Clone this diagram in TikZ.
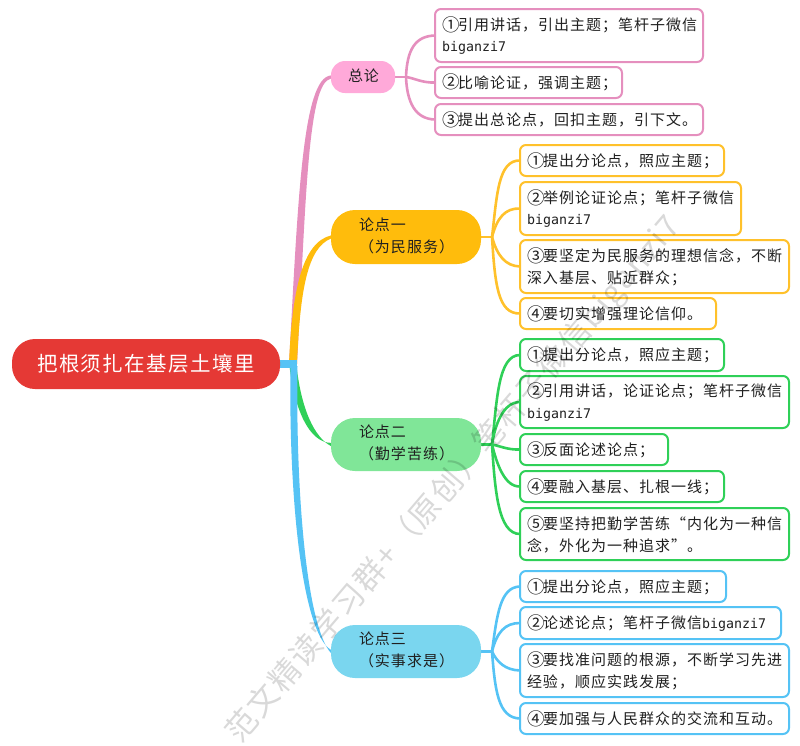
\documentclass[tikz,border=0pt]{standalone}
\usepackage{fontspec}
\setmainfont[LetterSpace=6.7]{Noto Sans CJK SC}
\newfontfamily\lat{DejaVu Sans Mono}
\newfontfamily\wm[LetterSpace=6]{Noto Sans CJK SC}
\usetikzlibrary{calc,backgrounds}
\definecolor{cpinkL}{HTML}{E58FBE}\definecolor{cpinkF}{HTML}{FFA9D9}
\definecolor{cyelL}{HTML}{FFC12B}\definecolor{cyelF}{HTML}{FFBC0C}
\definecolor{cgrnL}{HTML}{2FD058}\definecolor{cgrnF}{HTML}{80E698}
\definecolor{cbluL}{HTML}{55C3F5}\definecolor{cbluF}{HTML}{7AD6EF}
\definecolor{crootF}{HTML}{E53935}\definecolor{ctext}{HTML}{202020}
\newcommand{\bg}{{\lat\fontsize{13.3}{21.5}\selectfont biganzi7}}
\newcommand{\nn}[1]{\makebox[16pt][l]{\fontsize{17.5}{21.5}\selectfont\raisebox{-0.6pt}{#1}}}
\tikzset{
  leafbox/.style={rounded corners=6pt,line width=2pt,fill=white,inner xsep=7pt,inner ysep=0pt,outer sep=0pt,
    align=left,text=ctext,font=\fontsize{15}{21.5}\selectfont},
  pill/.style={inner sep=0pt,outer sep=0pt,text=ctext,font=\fontsize{15}{21.5}\selectfont},
  conn/.style={line width=2.6pt,line cap=round},
}
% \leafnode{name}{colour}{x1}{y1}{x2}{y2}{text}
\newcommand{\leafnode}[7]{%
  \pgfmathsetmacro{\lw}{#5-#3}\pgfmathsetmacro{\lh}{#6-#4}%
  \pgfmathsetmacro{\lx}{(#3+#5)/2}\pgfmathsetmacro{\ly}{(#4+#6)/2}%
  \pgfmathsetmacro{\tw}{\lw-14}%
  \node[leafbox,draw=#2,minimum width=\lw pt,minimum height=\lh pt,text width=\tw pt] (#1) at (\lx,\ly) {#7};}
% \pillnode{name}{fill}{x1}{y1}{x2}{y2}{radius}
\newcommand{\pillnode}[7]{%
  \pgfmathsetmacro{\lw}{#5-#3}\pgfmathsetmacro{\lh}{#6-#4}%
  \pgfmathsetmacro{\lx}{(#3+#5)/2}\pgfmathsetmacro{\ly}{(#4+#6)/2}%
  \node[pill,fill=#2,rounded corners=#7pt,minimum width=\lw pt,minimum height=\lh pt] (#1) at (\lx,\ly) {};}
% \taper{colour}{start x}{start y}{half width}{c1}{c2}{node}{sign}
\newcommand{\taper}[8]{%
  \fill[#1] ({#2-#4},#3) .. controls ($(#5)+(-#4,0)$) and ($(#6)+(-2.6,#8*2.6)$) .. ([yshift=1.6pt]#7.west)
     -- ([yshift=-1.6pt]#7.west) .. controls ($(#6)+(2.6,-#8*2.6)$) and ($(#5)+(#4,0)$) .. ({#2+#4},#3) -- cycle;}
\begin{document}
\begin{tikzpicture}[x=1pt,y=-1pt]
\useasboundingbox (0,0) rectangle (800,745);
% root and main branches
\pillnode{root}{crootF}{12}{339}{280}{389}{23}
\node[text=white,font=\fontsize{20.5}{24}\selectfont,anchor=west,inner sep=0pt] (roottxt) at (37,364) {把根须扎在基层土壤里};
\pillnode{zl}{cpinkF}{331}{61}{395}{93}{14}
\node[pill,anchor=west] (zltxt) at (348,76) {总论};
\pillnode{a}{cyelF}{331}{210}{481}{264}{24}
\node[pill,anchor=west,align=left] (atxt) at (359,236) {论点一\\（为民服务）};
\pillnode{b}{cgrnF}{331}{418}{481}{471}{24}
\node[pill,anchor=west,align=left] (btxt) at (359,443) {论点二\\（勤学苦练）};
\pillnode{c}{cbluF}{331}{625}{481}{678}{24}
\node[pill,anchor=west,align=left] (ctxt) at (359,650) {论点三\\（实事求是）};
% leaves
\leafnode{z1}{cpinkL}{435}{9}{703}{62}{\nn{①}引用讲话，引出主题；笔杆子微信\\\bg}
\leafnode{z2}{cpinkL}{435}{67}{622}{98}{\nn{②}比喻论证，强调主题；}
\leafnode{z3}{cpinkL}{435}{104}{703}{135}{\nn{③}提出总论点，回扣主题，引下文。}
\leafnode{a1}{cyelL}{520}{145}{724}{176}{\nn{①}提出分论点，照应主题；}
\leafnode{a2}{cyelL}{520}{182}{741}{235}{\nn{②}举例论证论点；笔杆子微信\\\bg}
\leafnode{a3}{cyelL}{520}{240}{789}{293}{\nn{③}要坚定为民服务的理想信念，不断\\深入基层、贴近群众；}
\leafnode{a4}{cyelL}{520}{298}{716}{329}{\nn{④}要切实增强理论信仰。}
\leafnode{b1}{cgrnL}{520}{339}{724}{371}{\nn{①}提出分论点，照应主题；}
\leafnode{b2}{cgrnL}{520}{376}{789}{428}{\nn{②}引用讲话，论证论点；笔杆子微信\\\bg}
\leafnode{b3}{cgrnL}{520}{434}{668}{465}{\nn{③}反面论述论点；}
\leafnode{b4}{cgrnL}{520}{471}{724}{502}{\nn{④}要融入基层、扎根一线；}
\leafnode{b5}{cgrnL}{520}{508}{789}{560}{\nn{⑤}要坚持把勤学苦练“内化为一种信\\念，外化为一种追求”。}
\leafnode{c1}{cbluL}{520}{571}{726}{602}{\nn{①}提出分论点，照应主题；}
\leafnode{c2}{cbluL}{520}{607}{781}{639}{\nn{②}论述论点；笔杆子微信\bg}
\leafnode{c3}{cbluL}{520}{644}{789}{697}{\nn{③}要找准问题的根源，不断学习先进\\经验，顺应实践发展；}
\leafnode{c4}{cbluL}{520}{703}{789}{734}{\nn{④}要加强与人民群众的交流和互动。}
% connectors
\begin{pgfonlayer}{background}
  \taper{cpinkL}{293}{364}{4}{302,200}{305,80}{zl}{-1}
  \taper{cyelF}{293}{364}{4}{296,290}{305,245}{a}{-1}
  \taper{cgrnL}{293}{366}{3.5}{298,410}{312,440}{b}{1}
  \taper{cbluL}{294}{366}{3.5}{292,500}{305,630}{c}{1}
  \fill[cbluL] ($(root.east)+(0,-4)$) rectangle ($(root.east)+(17,4)$);
  \coordinate (zh) at ($(zl.east)+(11,0)$);
  \coordinate (ah) at ($(a.east)+(11,0)$);
  \coordinate (bh) at ($(b.east)+(11,0)$);
  \coordinate (ch) at ($(c.east)+(11,0)$);
  \draw[conn,cpinkL] (zl.east) -- (zh);
  \draw[conn,cpinkL] (zh) .. controls (407,50) and (415,36) .. (z1.west);
  \draw[conn,cpinkL] (zh) .. controls (414,78) and (422,83) .. (z2.west);
  \draw[conn,cpinkL] (zh) .. controls (407,102) and (415,119) .. (z3.west);
  \draw[conn,cyelL] (a.east) -- (ah);
  \draw[conn,cyelL] (ah) .. controls (497,195) and (498,160) .. (a1.west);
  \draw[conn,cyelL] (ah) .. controls (497,218) and (505,208) .. (a2.west);
  \draw[conn,cyelL] (ah) .. controls (497,255) and (505,266) .. (a3.west);
  \draw[conn,cyelL] (ah) .. controls (495,285) and (498,314) .. (a4.west);
  \draw[conn,cgrnL] (b.east) -- (bh);
  \draw[conn,cgrnL] (bh) .. controls (497,400) and (498,355) .. (b1.west);
  \draw[conn,cgrnL] (bh) .. controls (495,425) and (503,402) .. (b2.west);
  \draw[conn,cgrnL] (bh) .. controls (500,446) and (508,450) .. (b3.west);
  \draw[conn,cgrnL] (bh) .. controls (497,465) and (505,487) .. (b4.west);
  \draw[conn,cgrnL] (bh) .. controls (495,490) and (498,534) .. (b5.west);
  \draw[conn,cbluL] (c.east) -- (ch);
  \draw[conn,cbluL] (ch) .. controls (497,615) and (500,587) .. (c1.west);
  \draw[conn,cbluL] (ch) .. controls (497,632) and (505,623) .. (c2.west);
  \draw[conn,cbluL] (ch) .. controls (497,662) and (505,670) .. (c3.west);
  \draw[conn,cbluL] (ch) .. controls (495,690) and (498,718) .. (c4.west);
\end{pgfonlayer}
% watermark
\begin{scope}
\clip (0,0) rectangle (800,745);
\node[rotate=49.5,text=black,opacity=.15,inner sep=0pt,font=\wm\fontsize{31}{35}\selectfont] (mark) at (454,480) {范文精读学习群+（原创）笔杆子微信biganzi7};
\end{scope}
\end{tikzpicture}
\end{document}
